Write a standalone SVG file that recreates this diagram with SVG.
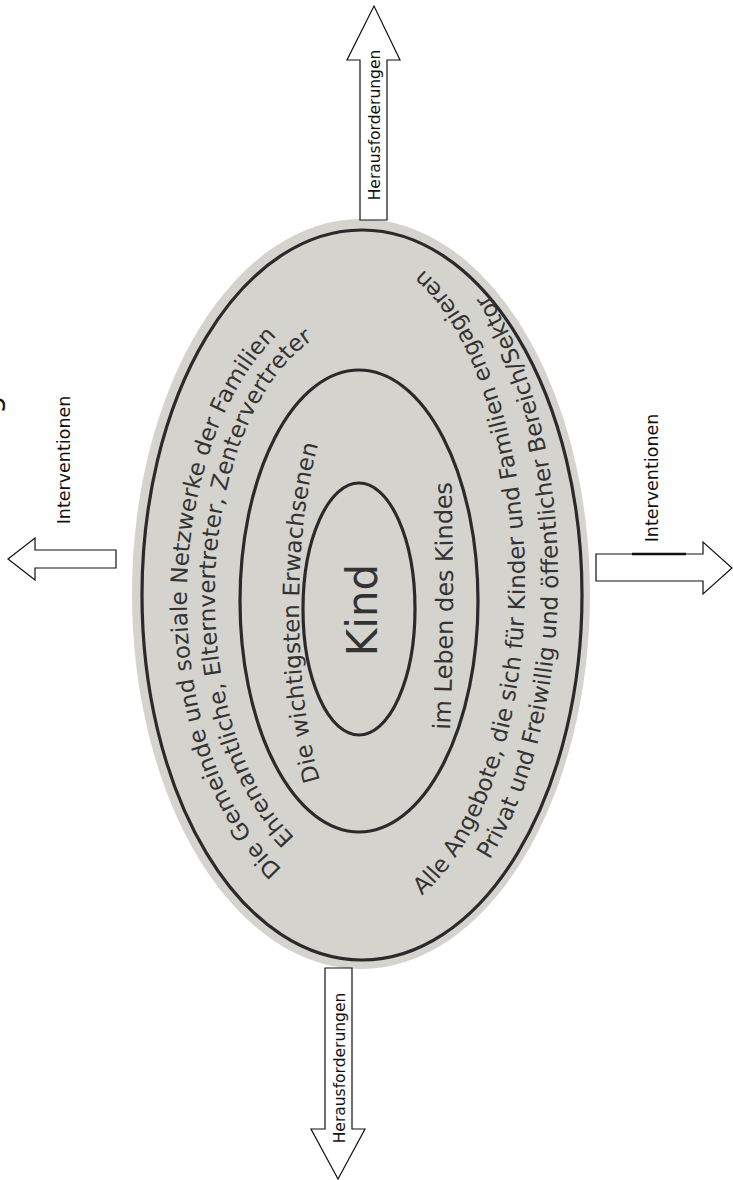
<svg xmlns="http://www.w3.org/2000/svg" xmlns:xlink="http://www.w3.org/1999/xlink" width="733" height="1180" viewBox="0 0 733 1180">
<style>
.ring{fill:none;stroke:#2a2a2a;stroke-width:3.2}
.t{font-family:"DejaVu Sans","Liberation Sans",sans-serif;font-size:23px;fill:#333}
.arrow{fill:#fff;stroke:#111;stroke-width:1.2;stroke-linejoin:miter}
.lab{font-family:"DejaVu Sans","Liberation Sans",sans-serif;fill:#111}
</style>
<defs>
<path id="p1" d="M282,869 A180,305 0 1 1 452,330.9"/>
<path id="p2" d="M294.8,837.4 A148,272 0 1 1 436,359.4"/>
<path id="p3" d="M320.1,780 A60,225 0 0 1 348.6,387.4"/>
<path id="p4" d="M450,730 Q456,600 450,440"/>
<path id="p5" d="M421.8,895.4 A165,338 0 0 0 383,247.3"/>
<path id="p6" d="M489.4,859.9 A192,368 0 0 0 456,253"/>
</defs>
<rect width="733" height="1180" fill="#fff"/>
<text class="lab" font-size="29" transform="translate(-1,603) rotate(-90)">Unterstützung</text>
<g id="outer-ring">
<ellipse cx="361" cy="594" rx="229" ry="375" fill="#d5d3ce"/>
<ellipse class="ring" cx="362" cy="595" rx="220" ry="365"/>
<text class="t"><textPath xlink:href="#p1" href="#p1">Die Gemeinde und soziale Netzwerke der Familien</textPath></text>
<text class="t"><textPath xlink:href="#p2" href="#p2">Ehrenamtliche, Elternvertreter, Zentervertreter</textPath></text>
<text class="t"><textPath xlink:href="#p5" href="#p5">Alle Angebote, die sich für Kinder und Familien engagieren</textPath></text>
<text class="t"><textPath xlink:href="#p6" href="#p6">Privat und Freiwillig und öffentlicher Bereich/Sektor</textPath></text>
</g>
<g id="middle-ring">
<ellipse class="ring" cx="359" cy="601" rx="119" ry="231" fill="#cecccb"/>
<text class="t"><textPath xlink:href="#p3" href="#p3">Die wichtigsten Erwachsenen</textPath></text>
<text class="t" style="font-size:24px"><textPath xlink:href="#p4" href="#p4">im Leben des Kindes</textPath></text>
</g>
<g id="inner-ring">
<ellipse class="ring" cx="359" cy="609" rx="56" ry="126" fill="#d1cfcc"/>
<text class="t" style="font-size:42px" text-anchor="middle" transform="translate(377,610) rotate(-90)">Kind</text>
</g>
<g id="connectors">
<g id="arrow-top">
<polygon class="arrow" points="360,220 360,60 347,60 374,6 400,60 387,60 387,220"/>
<text class="lab" font-size="15.5" text-anchor="middle" transform="translate(380,125) rotate(-90)">Herausforderungen</text>
</g>
<g id="arrow-bottom">
<polygon class="arrow" points="325,968 352,968 352,1129 365,1129 338,1179 311,1129 325,1129"/>
<text class="lab" font-size="15.5" text-anchor="middle" transform="translate(345,1068) rotate(-90)">Herausforderungen</text>
</g>
<g id="arrow-right">
<polygon class="arrow" points="596,554 703,554 703,542 732,568 703,594 703,581 596,581"/>
<line x1="632" y1="554" x2="686" y2="554" stroke="#111" stroke-width="2.5"/>
<text class="lab" font-size="17.5" text-anchor="middle" transform="translate(658,478) rotate(-90)">Interventionen</text>
</g>
<g id="arrow-left">
<polygon class="arrow" points="116,550 35,550 35,538 8,559 35,580 35,568 116,568"/>
<text class="lab" font-size="17.5" text-anchor="middle" transform="translate(70,460) rotate(-90)">Interventionen</text>
</g>
</g>
</svg>
